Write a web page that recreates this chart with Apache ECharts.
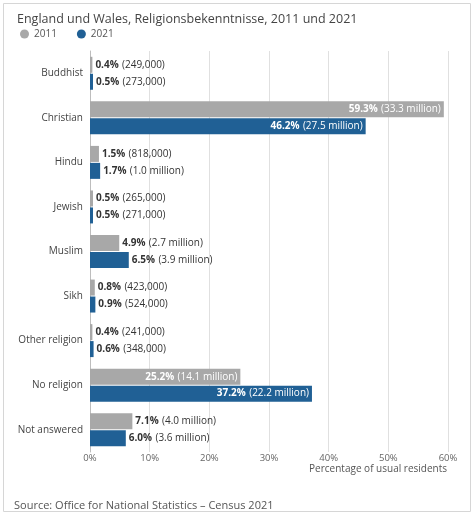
<!DOCTYPE html>
<html>
<head>
<meta charset="utf-8">
<script src="https://cdn.jsdelivr.net/npm/echarts@6/dist/echarts.min.js"></script>
<style>
  html, body { margin: 0; padding: 0; background: #fff; }
  #chart { width: 474px; height: 515px; }
</style>
</head>
<body>
<div id="chart"></div>
<script>
// Religion, England and Wales, census 2011 vs 2021
var categories = ['Buddhist', 'Christian', 'Hindu', 'Jewish', 'Muslim', 'Sikh', 'Other religion', 'No religion', 'Not answered']
var pct2011 = [0.4, 59.3, 1.5, 0.5, 4.9, 0.8, 0.4, 25.2, 7.1]
var pct2021 = [0.5, 46.2, 1.7, 0.5, 6.5, 0.9, 0.6, 37.2, 6.0]
var count2011 = ['249,000', '33.3 million', '818,000', '265,000', '2.7 million', '423,000', '241,000', '14.1 million', '4.0 million']
var count2021 = ['273,000', '27.5 million', '1.0 million', '271,000', '3.9 million', '524,000', '348,000', '22.2 million', '3.6 million']
var xTicks = [0, 10, 20, 30, 40, 50, 60]

var font = '"Open Sans", "Noto Sans", sans-serif'

// label inside the bar when it is long, otherwise to the right
function barData(values, counts) {
  return values.map(function (v, i) {
    var inside = v > 20
    return {
      value: v,
      label: {
        show: true,
        position: inside ? 'insideRight' : 'right',
        distance: 3,
        formatter: '{b|' + v.toFixed(1) + '%} {n|(' + counts[i] + ')}',
        rich: {
          b: { fontWeight: 'bold', fontSize: 10, fontFamily: font, color: inside ? '#fff' : '#333' },
          n: { fontSize: 10, fontFamily: font, color: inside ? '#fff' : '#333' }
        }
      }
    }
  })
}

var myChart = echarts.init(document.getElementById('chart'))
var option = {
  animation: false,
  title: {
    text: 'England und Wales, Religionsbekenntnisse, 2011 und 2021',
    left: 12,
    top: 8,
    textStyle: { fontFamily: font, fontSize: 12.5, fontWeight: 'normal', color: '#444' }
  },
  legend: {
    left: 15,
    top: 24,
    icon: 'circle',
    itemWidth: 9,
    itemHeight: 9,
    itemGap: 20,
    textStyle: { fontFamily: font, fontSize: 10, color: '#555' },
    data: ['2011', '2021']
  },
  graphic: [{
    type: 'rect',
    shape: { x: 3.5, y: 3.5, width: 467, height: 508 },
    style: { fill: 'none', stroke: '#d6d6d6', lineWidth: 1 },
    silent: true
  }, {
    // x axis title, sits under the 40–60% labels
    type: 'text',
    right: 27,
    top: 464,
    style: { text: 'Percentage of usual residents', font: '10px ' + font, fill: '#555' }
  }, {
    type: 'text',
    left: 14,
    top: 500,
    style: { text: 'Source: Office for National Statistics \u2013 Census 2021', font: '11px ' + font, fill: '#555' }
  }],
  grid: {
    left: 90,
    right: 26,
    top: 51,
    height: 401,
    containLabel: false,
    outerBoundsMode: 'none'
  },
  xAxis: {
    type: 'value',
    min: xTicks[0],
    max: xTicks[xTicks.length - 1],
    interval: 10,
    axisLine: { show: false },
    axisTick: { show: false },
    axisLabel: { formatter: '{value}%', fontFamily: font, fontSize: 9.5, color: '#666', margin: 1 },
    splitLine: { lineStyle: { color: '#e0e0e0', width: 1 } }
  },
  yAxis: {
    type: 'category',
    inverse: true,
    data: categories,
    axisLine: { show: true, lineStyle: { color: '#bdbdbd', width: 1 } },
    axisTick: { show: false },
    axisLabel: { fontFamily: font, fontSize: 10, color: '#444', margin: 7 }
  },
  series: [{
    name: '2011',
    type: 'bar',
    barWidth: 16,
    barGap: '6%',
    itemStyle: { color: '#a8a8a8' },
    data: barData(pct2011, count2011)
  }, {
    name: '2021',
    type: 'bar',
    barWidth: 16,
    itemStyle: { color: '#206095' },
    data: barData(pct2021, count2021)
  }]
}
myChart.setOption(option)
</script>
</body>
</html>
